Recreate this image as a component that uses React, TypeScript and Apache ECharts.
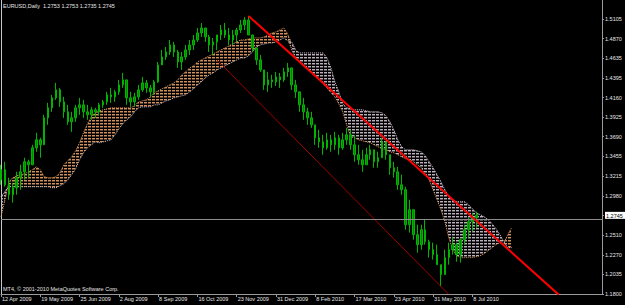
import React, { useEffect, useRef } from 'react';
import * as echarts from 'echarts';

const titleText = 'EURUSD,Daily  1.2753 1.2753 1.2735 1.2745';
const copyrightText = 'MT4, \u00A9 2001-2010 MetaQuotes Software Corp.';

const xLabels = ['12 Apr 2009', '19 May 2009', '25 Jun 2009', '2 Aug 2009', '8 Sep 2009', '16 Oct 2009', '23 Nov 2009', '31 Dec 2009', '8 Feb 2010', '17 Mar 2010', '23 Apr 2010', '31 May 2010', '8 Jul 2010'];
const yTicks = [1.18, 1.2035, 1.227, 1.251, 1.2745, 1.298, 1.3215, 1.3455, 1.369, 1.3925, 1.416, 1.4395, 1.4635, 1.487, 1.5105];
const bidPrice = 1.2745;
const SLOTS = 154;

const openP = [1.3173,1.3293,1.3113,1.2993,1.3077,1.3197,1.3269,1.3389,1.3353,1.3557,
1.3653,1.3593,1.3917,1.4037,1.4157,1.4253,1.4109,1.3989,1.3869,1.3917,
1.4037,1.4073,1.3989,1.3953,1.4013,1.3989,1.4073,1.4109,1.4193,1.4169,
1.4229,1.4313,1.4373,1.4157,1.4109,1.4169,1.4253,1.4337,1.4277,1.4229,
1.4349,1.4553,1.4649,1.4709,1.4793,1.4709,1.4589,1.4649,1.4733,1.4793,
1.4853,1.4937,1.4997,1.4889,1.4793,1.4829,1.4913,1.4973,1.4913,1.4853,
1.4913,1.4973,1.5033,1.5093,1.4913,1.4757,1.4613,1.4493,1.4313,1.4373,
1.4349,1.4409,1.4373,1.4469,1.4517,1.4313,1.4229,1.4073,1.3989,1.3917,
1.3833,1.3677,1.3629,1.3557,1.3653,1.3593,1.3677,1.3557,1.3653,1.3713,
1.3593,1.3473,1.3413,1.3353,1.3473,1.3533,1.3389,1.3437,1.3629,1.3473,
1.3317,1.3269,1.3113,1.3053,1.2633,1.2813,1.2513,1.2393,1.2573,1.2429,
1.2333,1.2273,1.2153,1.2033,1.2237,1.2333,1.2393,1.2273,1.2453,1.2573,
1.2669,1.2717];

const closeP = [1.3293,1.3113,1.2993,1.3077,1.3197,1.3269,1.3389,1.3353,1.3557,1.3653,
1.3593,1.3917,1.4037,1.4157,1.4253,1.4109,1.3989,1.3869,1.3917,1.4037,
1.4073,1.3989,1.3953,1.4013,1.3989,1.4073,1.4109,1.4193,1.4169,1.4229,
1.4313,1.4373,1.4157,1.4109,1.4169,1.4253,1.4337,1.4277,1.4229,1.4349,
1.4553,1.4649,1.4709,1.4793,1.4709,1.4589,1.4649,1.4733,1.4793,1.4853,
1.4937,1.4997,1.4889,1.4793,1.4829,1.4913,1.4973,1.4913,1.4853,1.4913,
1.4973,1.5033,1.5093,1.4913,1.4757,1.4613,1.4493,1.4313,1.4373,1.4349,
1.4409,1.4373,1.4469,1.4517,1.4313,1.4229,1.4073,1.3989,1.3917,1.3833,
1.3677,1.3629,1.3557,1.3653,1.3593,1.3677,1.3557,1.3653,1.3713,1.3593,
1.3473,1.3413,1.3353,1.3473,1.3533,1.3389,1.3437,1.3629,1.3473,1.3317,
1.3269,1.3113,1.3053,1.2633,1.2813,1.2513,1.2393,1.2573,1.2429,1.2333,
1.2273,1.2153,1.2033,1.2237,1.2333,1.2393,1.2273,1.2453,1.2573,1.2669,
1.2717,1.2745];

const lowP = [1.3113,1.3089,1.2933,1.2897,1.2993,1.3053,1.3173,1.3197,1.3353,1.3509,
1.3437,1.3593,1.3833,1.3989,1.4133,1.4049,1.3917,1.3833,1.3749,1.3869,
1.3953,1.3917,1.3893,1.3893,1.3917,1.3953,1.4037,1.4073,1.4097,1.4109,
1.4193,1.4277,1.4073,1.4049,1.4061,1.4133,1.4229,1.4217,1.4169,1.4193,
1.4337,1.4553,1.4613,1.4673,1.4649,1.4517,1.4493,1.4613,1.4673,1.4733,
1.4829,1.4889,1.4829,1.4709,1.4673,1.4733,1.4853,1.4877,1.4793,1.4793,
1.4829,1.4937,1.4973,1.4913,1.4709,1.4553,1.4469,1.4253,1.4229,1.4277,
1.4301,1.4277,1.4349,1.4409,1.4253,1.4157,1.3989,1.3893,1.3833,1.3797,
1.3593,1.3557,1.3473,1.3533,1.3509,1.3533,1.3473,1.3533,1.3593,1.3533,
1.3389,1.3353,1.3269,1.3353,1.3413,1.3317,1.3317,1.3437,1.3413,1.3233,
1.3197,1.3053,1.2993,1.2573,1.2537,1.2453,1.2297,1.2333,1.2393,1.2237,
1.2213,1.2153,1.1889,1.2033,1.2153,1.2273,1.2189,1.2177,1.2393,1.2477,
1.2549,1.2597];

const highP = [1.3353,1.3389,1.3197,1.3137,1.3269,1.3353,1.3437,1.3413,1.3593,1.3737,
1.3677,1.3953,1.4097,1.4193,1.4337,1.4277,1.4169,1.4073,1.3989,1.4073,
1.4157,1.4133,1.4073,1.4049,1.4037,1.4097,1.4133,1.4229,1.4277,1.4253,
1.4373,1.4457,1.4373,1.4229,1.4217,1.4313,1.4409,1.4373,1.4313,1.4373,
1.4589,1.4733,1.4769,1.4853,1.4829,1.4733,1.4709,1.4793,1.4853,1.4913,
1.4997,1.5057,1.4997,1.4913,1.4877,1.4913,1.5033,1.5057,1.4997,1.4973,
1.4997,1.5093,1.5129,1.5141,1.4913,1.4757,1.4673,1.4493,1.4469,1.4433,
1.4469,1.4457,1.4517,1.4577,1.4517,1.4373,1.4229,1.4157,1.4037,1.3989,
1.3833,1.3773,1.3713,1.3737,1.3713,1.3749,1.3713,1.3737,1.3797,1.3773,
1.3713,1.3593,1.3533,1.3557,1.3593,1.3533,1.3509,1.3677,1.3629,1.3473,
1.3389,1.3329,1.3233,1.3089,1.2933,1.2813,1.2633,1.2633,1.2693,1.2453,
1.2417,1.2393,1.2153,1.2333,1.2417,1.2489,1.2417,1.2453,1.2633,1.2717,
1.2777,1.2789];

const spanA = [1.2729,1.2933,1.3149,1.3197,1.3221,1.3233,1.3245,1.3269,1.3293,1.3329,
1.3293,1.3209,1.3197,1.3197,1.3209,1.3257,1.3353,1.3401,1.3449,1.3521,
1.3617,1.3737,1.3845,1.3929,1.3977,1.4001,1.4013,1.4025,1.4037,1.4037,
1.4037,1.4037,1.4037,1.4037,1.4061,1.4109,1.4121,1.4133,1.4169,1.4217,
1.4241,1.4265,1.4289,1.4313,1.4337,1.4373,1.4433,1.4469,1.4517,1.4541,
1.4589,1.4613,1.4637,1.4661,1.4685,1.4709,1.4733,1.4757,1.4781,1.4805,
1.4829,1.4853,1.4853,1.4865,1.4877,1.4877,1.4877,1.4889,1.4913,1.4937,
1.4949,1.4973,1.4997,1.4925,1.4733,1.4637,1.4589,1.4541,1.4505,1.4469,
1.4421,1.4385,1.4325,1.4277,1.4217,1.4169,1.4085,1.3989,1.3833,1.3689,
1.3677,1.3653,1.3641,1.3629,1.3617,1.3593,1.3569,1.3545,1.3533,1.3509,
1.3497,1.3473,1.3449,1.3425,1.3413,1.3389,1.3353,1.3317,1.3233,1.3173,
1.3053,1.2933,1.2813,1.2669,1.2477,1.2333,1.2261,1.2237,1.2237,1.2237,
1.2237,1.2249,1.2261,1.2285,1.2321,1.2357,1.2393,1.2417,1.2405,1.2513,
1.2597];

const spanB = [1.2969,1.3029,1.3089,1.3089,1.3089,1.3089,1.3089,1.3089,1.3089,1.3089,
1.3089,1.3089,1.3089,1.3077,1.3077,1.3101,1.3125,1.3173,1.3233,1.3305,
1.3413,1.3497,1.3557,1.3593,1.3629,1.3617,1.3629,1.3641,1.3653,1.3713,
1.3785,1.3845,1.3893,1.3929,1.3989,1.4037,1.4049,1.4049,1.4049,1.4073,
1.4073,1.4097,1.4121,1.4133,1.4157,1.4169,1.4181,1.4193,1.4229,1.4265,
1.4313,1.4349,1.4397,1.4433,1.4457,1.4493,1.4517,1.4541,1.4565,1.4589,
1.4613,1.4637,1.4637,1.4661,1.4709,1.4769,1.4793,1.4805,1.4817,1.4817,
1.4829,1.4853,1.4877,1.4841,1.4829,1.4733,1.4697,1.4697,1.4697,1.4697,
1.4697,1.4697,1.4697,1.4637,1.4517,1.4349,1.4229,1.4085,1.4037,1.4025,
1.4013,1.4013,1.4013,1.4001,1.3989,1.3989,1.3989,1.3977,1.3941,1.3869,
1.3773,1.3653,1.3569,1.3533,1.3533,1.3533,1.3521,1.3509,1.3461,1.3389,
1.3317,1.3233,1.3149,1.3053,1.2969,1.2921,1.2909,1.2909,1.2909,1.2873,
1.2825,1.2777,1.2753,1.2729,1.2693,1.2645,1.2585,1.2513,1.2429,1.2357,
1.2357];

const trendRed = [[63, 1.5141], [142, 1.179]];
const trendDark = [[55, 1.4612], [114, 1.1795]];

const FONT = 'Liberation Sans';
const FS = 5.5;

function hatch(color: string) {
  const c = document.createElement('canvas');
  c.width = 4;
  c.height = 3;
  const ctx = c.getContext('2d');
  if (ctx) {
    ctx.fillStyle = color;
    ctx.fillRect(0, 0, 3, 1);
    ctx.globalAlpha = 0.45;
    ctx.fillRect(0, 1, 3, 1);
  }
  return c;
}

export default function App() {
  const ref = useRef<HTMLDivElement>(null);
  useEffect(() => {
    if (!ref.current) return;
    const chart = echarts.init(ref.current, null, { renderer: 'svg' });
    const categories = Array.from({ length: SLOTS }, (_, i) => String(i));
    const candles = openP.map((o, i) => [o, closeP[i], lowP[i], highP[i]]);
    const kumoBase = spanA.map((a, i) => Math.min(a, spanB[i]));
    const kumoUp = spanA.map((a, i) => (a > spanB[i] ? a - spanB[i] : 0));
    const kumoDown = spanA.map((a, i) => (spanB[i] > a ? spanB[i] - a : 0));
    const tickShown = (i: number) => i % 10 === 0 && i / 10 < xLabels.length;
    const axisGray = '#9a9a9a';
    const textColor = '#e6e6e6';

    chart.setOption({
      animation: false,
      backgroundColor: '#000000',
      title: [
        { text: titleText, left: 3, top: 3, padding: 0, textStyle: { fontSize: FS, fontFamily: FONT, color: textColor, fontWeight: 'normal' } },
        { text: copyrightText, left: 3, top: 286, padding: 0, textStyle: { fontSize: FS, fontFamily: FONT, color: textColor, fontWeight: 'normal' } },
      ],
      grid: { left: 1, right: 23, top: 0, bottom: 11, show: false, outerBoundsMode: 'none' },
      xAxis: {
        type: 'category',
        data: categories,
        boundaryGap: false,
        axisLine: { show: true, lineStyle: { color: axisGray, width: 1 } },
        axisTick: { show: true, interval: (i: number) => tickShown(i), length: 3, lineStyle: { color: axisGray } },
        axisLabel: {
          interval: (i: number) => tickShown(i),
          formatter: (v: string) => {
            const i = Number(v);
            return tickShown(i) ? xLabels[i / 10] : '';
          },
          align: 'left',
          margin: 2,
          padding: [0, 0, 0, 1],
          fontSize: FS,
          fontFamily: FONT,
          color: textColor,
        },
        splitLine: { show: false },
      },
      yAxis: [
        {
          type: 'value',
          position: 'right',
          min: 1.18,
          max: 1.5333,
          axisLine: { show: true, lineStyle: { color: axisGray, width: 1 } },
          axisTick: { show: true, length: 2, customValues: yTicks, lineStyle: { color: axisGray } },
          axisLabel: {
            customValues: yTicks,
            margin: 3,
            fontSize: FS,
            fontFamily: FONT,
            color: textColor,
            formatter: (v: number) => {
              const s = v.toFixed(4);
              return Math.abs(v - bidPrice) < 1e-6 ? `{cur|${s}}` : s;
            },
            rich: {
              cur: { backgroundColor: '#ffffff', color: '#000000', fontSize: FS, fontFamily: FONT, padding: [1, 4, 0, 1] },
            },
          },
          splitLine: { show: false },
        },
        {
          type: 'value',
          position: 'left',
          min: 1.18,
          max: 1.5333,
          axisLine: { show: true, lineStyle: { color: '#c8c8c8', width: 1 } },
          axisTick: { show: false },
          axisLabel: { show: false },
          splitLine: { show: false },
        },
      ],
      series: [
        { type: 'line', data: kumoBase, stack: 'kumo', symbol: 'none', silent: true, lineStyle: { opacity: 0 }, z: 1 },
        {
          type: 'line', data: kumoUp, stack: 'kumo', symbol: 'none', silent: true,
          lineStyle: { opacity: 0 },
          areaStyle: { color: { image: hatch('#d2925a'), repeat: 'repeat' }, opacity: 1 },
          z: 1,
        },
        {
          type: 'line', data: kumoDown, stack: 'kumo', symbol: 'none', silent: true,
          lineStyle: { opacity: 0 },
          areaStyle: { color: { image: hatch('#bdb0bd'), repeat: 'repeat' }, opacity: 1 },
          z: 1,
        },
        { type: 'line', data: spanA, symbol: 'none', silent: true, lineStyle: { color: '#e39a58', width: 1, type: 'dotted' }, z: 2 },
        { type: 'line', data: spanB, symbol: 'none', silent: true, lineStyle: { color: '#d8c8d8', width: 1, type: 'dotted' }, z: 2 },
        {
          type: 'candlestick',
          data: candles,
          barWidth: 2,
          silent: true,
          itemStyle: { color: '#008a00', color0: '#008a00', borderColor: '#00b400', borderColor0: '#00b400', borderWidth: 1 },
          markLine: {
            silent: true,
            symbol: ['none', 'none'],
            label: { show: false },
            lineStyle: { color: '#8c8c8c', width: 1, type: 'solid' },
            data: [{ yAxis: bidPrice }],
          },
          z: 3,
        },
        { type: 'line', data: trendDark, symbol: 'none', silent: true, lineStyle: { color: '#a00000', width: 1 }, z: 4 },
        { type: 'line', data: trendRed, symbol: 'none', silent: true, lineStyle: { color: '#ff0000', width: 2 }, z: 5 },
      ],
    });
    return () => chart.dispose();
  }, []);
  return <div ref={ref} style={{ position: 'fixed', left: 0, top: 0, width: 625, height: 305, background: '#000' }} />;
}
